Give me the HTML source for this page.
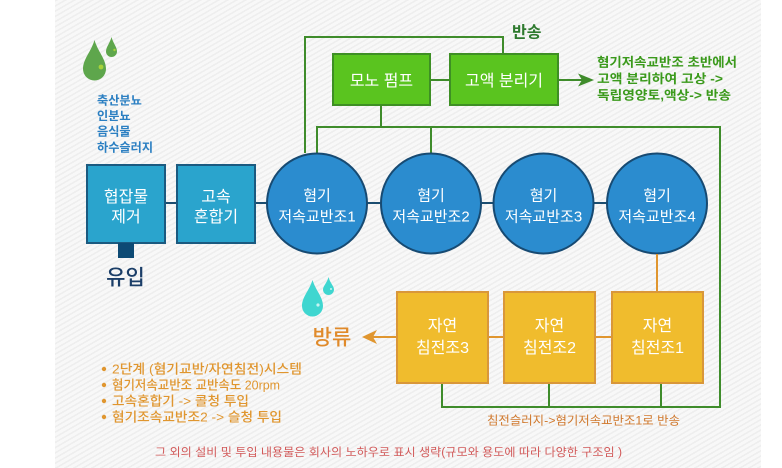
<!DOCTYPE html>
<html><head><meta charset="utf-8">
<style>
html,body{margin:0;padding:0;background:#fff;}
body{width:782px;height:468px;overflow:hidden;position:relative;}
#bg{position:absolute;left:55px;top:0;width:706px;height:468px;
background:repeating-linear-gradient(150deg,#eeeeee 0px,#eeeeee 1.6px,#f8f8f8 1.6px,#f8f8f8 4.5px);}
svg{position:absolute;left:0;top:0;}
text{font-family:"Liberation Sans","Noto Sans CJK KR",sans-serif;}
</style></head><body>
<div id="bg"></div>
<svg width="782" height="468" viewBox="0 0 782 468" xmlns="http://www.w3.org/2000/svg">
<!-- green drops -->
<path d="M94.5,40 C91,52 83,59 83,69 A11.5,11.5 0 0 0 106,69 C106,59 98,52 94.5,40 Z" fill="#5ea64c"/>
<circle cx="101" cy="67" r="2.4" fill="#a6d23a"/>
<path d="M111.5,37 C110,43 106,47 106,51.5 A5.5,5.5 0 0 0 117,51.5 C117,47 113,43 111.5,37 Z" fill="#5ea64c"/>
<circle cx="114.5" cy="50" r="1.2" fill="#a6d23a"/>

<!-- blue source labels -->
<g fill="#2b7fc2" font-size="12.2" font-weight="bold">
<text x="97" y="104.5">축산분뇨</text>
<text x="97" y="120">인분뇨</text>
<text x="97" y="135.5">음식물</text>
<text x="97" y="151.5">하수슬러지</text>
</g>

<!-- green loops -->
<g stroke="#3f8c2b" stroke-width="2" fill="none">
<polyline points="305,153 305,37 503,37 503,54"/>
<line x1="430" y1="80" x2="450" y2="80"/>
<line x1="381" y1="105" x2="381" y2="127"/>
<polyline points="317,153 317,127 720,127 720,407 442,407 442,383"/>
<line x1="431" y1="127" x2="431" y2="153"/>
<line x1="549" y1="407" x2="549" y2="383"/>
<line x1="661" y1="407" x2="661" y2="383"/>
<line x1="558" y1="80" x2="582" y2="80"/>
</g>
<path d="M594,80 L578,73.5 L582,80 L578,86.5 Z" fill="#3f8c2b"/>

<!-- 반송 label -->
<text x="512" y="37.5" font-size="16" fill="#2e7a2e" font-weight="bold">반송</text>

<!-- green right text -->
<g fill="#3b9a1c" font-size="12.6" font-weight="bold">
<text x="597" y="66.5" textLength="140" lengthAdjust="spacingAndGlyphs">혐기저속교반조 초반에서</text>
<text x="597" y="83" textLength="126" lengthAdjust="spacingAndGlyphs">고액 분리하여 고상 -&gt;</text>
<text x="597" y="99.5" textLength="134" lengthAdjust="spacingAndGlyphs">독립영양토,액상-&gt; 반송</text>
</g>

<!-- green boxes -->
<rect x="333" y="54" width="97" height="51" fill="#5ac41f" stroke="#3e8f24" stroke-width="2"/>
<rect x="450" y="54" width="108" height="51" fill="#5ac41f" stroke="#3e8f24" stroke-width="2"/>
<g fill="#ffffff" font-size="16" text-anchor="middle">
<text x="381.5" y="86">모노 펌프</text>
<text x="504" y="86">고액 분리기</text>
</g>

<!-- blue connectors -->
<g stroke="#1b4d70" stroke-width="2">
<line x1="165" y1="203" x2="177" y2="203"/>
<line x1="255" y1="203" x2="267" y2="203"/>
<line x1="367" y1="203" x2="382" y2="203"/>
<line x1="481" y1="203" x2="494" y2="203"/>
<line x1="593" y1="203" x2="607" y2="203"/>
</g>

<!-- teal boxes -->
<rect x="87" y="165" width="78" height="78" fill="#2aa4cd" stroke="#1b5a80" stroke-width="2"/>
<rect x="177" y="165" width="78" height="78" fill="#2aa4cd" stroke="#1b5a80" stroke-width="2"/>
<rect x="118" y="243" width="16" height="15" fill="#0d4a74"/>
<g fill="#ffffff" font-size="16" text-anchor="middle">
<text x="126" y="202">협잡물</text>
<text x="126" y="222">제거</text>
<text x="216" y="202">고속</text>
<text x="216" y="222">혼합기</text>
</g>
<text x="125.5" y="284.5" font-size="21" fill="#1b3e68" text-anchor="middle" font-weight="500">유입</text>

<!-- circles -->
<g fill="#2b8ccf" stroke="#174a72" stroke-width="2">
<circle cx="317" cy="203.5" r="50"/>
<circle cx="431" cy="203.5" r="50"/>
<circle cx="543.5" cy="203.5" r="50"/>
<circle cx="657" cy="203.5" r="50"/>
</g>
<g fill="#ffffff" font-size="15" text-anchor="middle">
<text x="317" y="200.5">혐기</text>
<text x="317" y="221.5">저속교반조1</text>
<text x="431" y="200.5">혐기</text>
<text x="431" y="221.5">저속교반조2</text>
<text x="543.5" y="200.5">혐기</text>
<text x="543.5" y="221.5">저속교반조3</text>
<text x="657" y="200.5">혐기</text>
<text x="657" y="221.5">저속교반조4</text>
</g>

<!-- orange connectors -->
<g stroke="#e0962f" stroke-width="2">
<line x1="657" y1="254" x2="657" y2="292"/>
<line x1="488" y1="337" x2="504" y2="337"/>
<line x1="595" y1="337" x2="612" y2="337"/>
<line x1="397" y1="337" x2="372" y2="337"/>
</g>
<path d="M362,337 L377,330 L373,337 L377,344 Z" fill="#e0962f"/>

<!-- yellow boxes -->
<g fill="#f0bc2d" stroke="#d9973a" stroke-width="2">
<rect x="397" y="292" width="91" height="91"/>
<rect x="504" y="292" width="91" height="91"/>
<rect x="612" y="292" width="91" height="91"/>
</g>
<g fill="#ffffff" font-size="16" text-anchor="middle">
<text x="442.5" y="331">자연</text>
<text x="442.5" y="353">침전조3</text>
<text x="549.5" y="331">자연</text>
<text x="549.5" y="353">침전조2</text>
<text x="657.5" y="331">자연</text>
<text x="657.5" y="353">침전조1</text>
</g>

<!-- cyan drops -->
<path d="M312.5,280 C309,291 302,297 302,306 A10.5,10.5 0 0 0 323,306 C323,297 316,291 312.5,280 Z" fill="#3fd6d0"/>
<circle cx="318" cy="305" r="1.6" fill="#c8f4f2"/>
<path d="M328.5,277 C327,283 323,286 323,289.5 A5.5,5.5 0 0 0 334,289.5 C334,286 330,283 328.5,277 Z" fill="#3fd6d0"/>
<circle cx="331" cy="289" r="1" fill="#c8f4f2"/>

<text x="332" y="344.5" font-size="21" fill="#e08a2a" text-anchor="middle" font-weight="500">방류</text>

<!-- bullets -->
<g fill="#e0962f">
<circle cx="104" cy="369" r="2.2"/>
<circle cx="104" cy="385" r="2.2"/>
<circle cx="104" cy="401" r="2.2"/>
<circle cx="104" cy="417" r="2.2"/>
</g>
<g fill="#e0962f" font-size="13" font-weight="500">
<text x="112" y="373.5" textLength="190" lengthAdjust="spacingAndGlyphs">2단계 (혐기교반/자연침전)시스템</text>
<text x="112" y="389.5" textLength="168" lengthAdjust="spacingAndGlyphs">혐기저속교반조 교반속도 20rpm</text>
<text x="112" y="405.5" textLength="137" lengthAdjust="spacingAndGlyphs">고속혼합기 -&gt; 콜청 투입</text>
<text x="112" y="421.5" textLength="170" lengthAdjust="spacingAndGlyphs">혐기조속교반조2 -&gt; 슬청 투입</text>
</g>

<text x="487" y="424.5" font-size="12" fill="#d0782c" textLength="193" lengthAdjust="spacingAndGlyphs">침전슬러지-&gt;혐기저속교반조1로 반송</text>

<text x="155" y="456" font-size="11.5" fill="#d25a5a" textLength="467" lengthAdjust="spacingAndGlyphs">그 외의 설비 및 투입 내용물은 회사의 노하우로 표시 생략(규모와 용도에 따라 다양한 구조임 )</text>
</svg>
</body></html>
